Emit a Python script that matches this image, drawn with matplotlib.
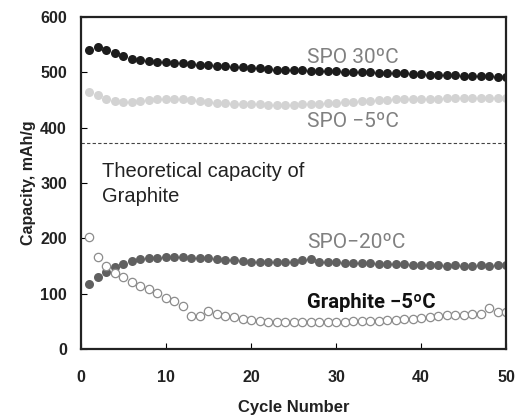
import matplotlib
matplotlib.use("Agg")
import matplotlib.pyplot as plt
import numpy as np

# cycle numbers
cycles = np.arange(1, 51)

# capacities (mAh/g)
spo_30 = [540, 545, 540, 535, 530, 525, 522, 520, 519, 518,
          517, 516, 515, 514, 513, 512, 511, 510, 509, 508,
          507, 506, 505, 505, 504, 504, 503, 503, 502, 502,
          501, 501, 500, 500, 499, 499, 498, 498, 497, 497,
          496, 496, 495, 495, 494, 494, 493, 493, 492, 492]
spo_m5 = [464, 459, 452, 448, 447, 447, 448, 450, 451, 452,
          452, 452, 450, 449, 447, 445, 444, 443, 442, 442,
          442, 441, 441, 441, 441, 442, 442, 443, 444, 445,
          446, 447, 448, 449, 450, 450, 451, 451, 451, 452,
          452, 452, 453, 453, 453, 453, 453, 453, 453, 453]
spo_m20 = [117, 130, 139, 148, 153, 159, 162, 164, 165, 166,
           166, 167, 165, 165, 164, 163, 161, 160, 159, 158,
           158, 157, 157, 157, 158, 160, 162, 158, 157, 157,
           156, 156, 155, 155, 154, 154, 153, 153, 152, 151,
           152, 151, 150, 151, 150, 150, 151, 150, 151, 152]
graphite_m5 = [203, 166, 150, 138, 131, 122, 114, 108, 101, 93,
               86, 77, 60, 60, 69, 64, 60, 57, 54, 52,
               50, 49, 49, 48, 48, 48, 48, 48, 49, 49,
               49, 50, 50, 50, 51, 52, 53, 54, 55, 56,
               58, 60, 61, 62, 62, 63, 63, 75, 67, 67]
theoretical = 372

fig = plt.figure(figsize=(5.15, 4.15), dpi=100)
ax = fig.add_axes([0.157, 0.159, 0.826, 0.800])

ax.plot(cycles, spo_30, "o", color="#1c1c1c", ms=6.5, mec="none")
ax.plot(cycles, spo_m5, "o", color="#d3d3d3", ms=6.5, mec="none")
ax.plot(cycles, spo_m20, "o", color="#606060", ms=6.5, mec="none")
ax.plot(cycles, graphite_m5, "o", mfc="white", mec="#8c8c8c", ms=6, mew=0.9)

ax.axhline(theoretical, color="#444444", lw=0.8, ls=(0, (3, 2)))

ax.set_xlim(0, 50)
ax.set_ylim(0, 600)
ax.set_xticks(range(0, 51, 10))
ax.set_yticks(range(0, 601, 100))

for s in ax.spines.values():
    s.set_linewidth(1.6)
    s.set_color("#222222")
ax.tick_params(direction="in", length=4, width=0.8)
ax.tick_params(axis="x", pad=15)
ax.tick_params(axis="y", pad=10)
for lab in ax.get_xticklabels() + ax.get_yticklabels():
    lab.set_fontfamily("Liberation Sans")
    lab.set_fontweight("bold")
    lab.set_fontsize(11.5)
    lab.set_color("#222222")

ax.set_xlabel("Cycle Number", fontfamily="Liberation Sans", fontweight="bold",
              fontsize=12, labelpad=11, color="#222222")
ax.set_ylabel("Capacity, mAh/g", fontfamily="Liberation Sans", fontweight="bold",
              fontsize=11.5, labelpad=3, color="#222222")

ax.text(26.6, 517, "SPO 30ºC", fontsize=15, color="#808080", family="Roboto", va="baseline")
ax.text(26.6, 401, "SPO −5ºC", fontsize=15, color="#808080", family="Roboto", va="baseline")
ax.text(26.6, 182, "SPO−20ºC", fontsize=15, color="#808080", family="Roboto", va="baseline")
ax.text(26.6, 74, "Graphite −5ºC", fontsize=14.6, color="#111111", family="Roboto",
        fontweight="bold", va="baseline")
ax.text(2.5, 311, "Theoretical capacity of", fontsize=14.5, color="#222222",
        family="Liberation Sans", va="baseline")
ax.text(2.5, 266, "Graphite", fontsize=14.5, color="#222222",
        family="Liberation Sans", va="baseline")

fig.savefig("out.png", dpi=100)
